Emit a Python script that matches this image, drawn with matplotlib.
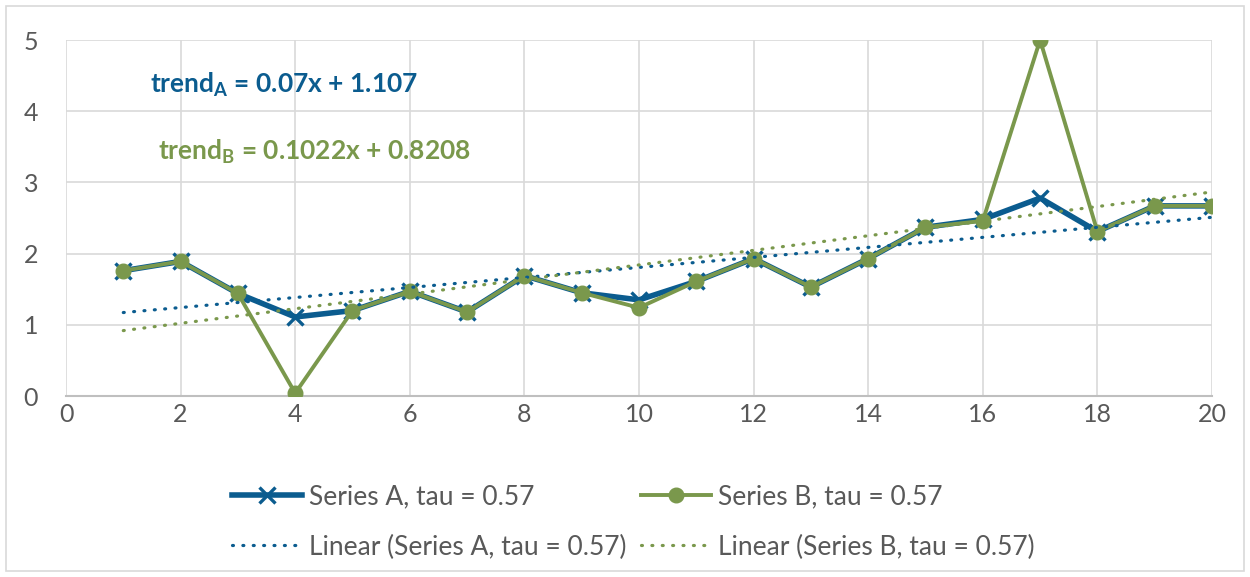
import matplotlib.pyplot as plt
import matplotlib.patches as patches
import numpy as np

# Data
x_vals = list(range(1, 21))
series_a = [1.76, 1.89, 1.44, 1.11, 1.20, 1.47, 1.18, 1.69, 1.45, 1.35,
            1.61, 1.93, 1.53, 1.93, 2.37, 2.48, 2.78, 2.31, 2.67, 2.67]
series_b = [1.76, 1.89, 1.44, 0.04, 1.20, 1.47, 1.18, 1.69, 1.45, 1.24,
            1.61, 1.93, 1.53, 1.93, 2.37, 2.46, 5.00, 2.31, 2.67, 2.67]
label_a = "Series A, tau = 0.57"
label_b = "Series B, tau = 0.57"
trend_text_a = "trend$_\\mathrm{A}$ = 0.07x + 1.107"
trend_text_b = "trend$_\\mathrm{B}$ = 0.1022x + 0.8208"

blue = "#0b5c8f"
green = "#7a984c"
grid_col = "#d9d9d9"
text_col = "#595959"

plt.rcParams['font.family'] = ['Lato', 'DejaVu Sans']
plt.rcParams['mathtext.fontset'] = 'custom'
plt.rcParams['mathtext.rm'] = 'Lato:bold'
plt.rcParams['mathtext.it'] = 'Lato:bold'
plt.rcParams['mathtext.bf'] = 'Lato:bold'

fig = plt.figure(figsize=(12.5, 5.77), dpi=100)
ax = fig.add_axes([66 / 1250, 1 - 396 / 577, (1212 - 66) / 1250, (396 - 40) / 577])

x = np.array(x_vals)
# trend lines fitted from the data
fit_a = np.polyfit(x, series_a, 1)
fit_b = np.polyfit(x, series_b, 1)
dots = (0, (0.3, 2.95))

la, = ax.plot(x, series_a, color=blue, lw=4.0, marker='x', ms=11, mew=2.4,
              label=label_a, zorder=3)
lb, = ax.plot(x, series_b, color=green, lw=2.8, marker='o', ms=10.5,
              label=label_b, zorder=4)
ta, = ax.plot(x, np.polyval(fit_a, x), color=blue, lw=2.3, ls=dots,
              dash_capstyle='round', label="Linear (" + label_a + ")", zorder=5)
tb, = ax.plot(x, np.polyval(fit_b, x), color=green, lw=2.3, ls=dots,
              dash_capstyle='round', label="Linear (" + label_b + ")", zorder=5)

ax.set_xlim(0, 20)
ax.set_ylim(0, 5)
ax.set_xticks(range(0, 21, 2))
ax.set_yticks(range(0, 6))
ax.grid(True, color=grid_col, lw=1.2)
ax.set_axisbelow(True)
for s in ['top', 'right', 'left']:
    ax.spines[s].set_visible(False)
ax.spines['bottom'].set_color('#bfbfbf')
ax.spines['bottom'].set_linewidth(1.5)
ax.tick_params(length=0, labelsize=18, labelcolor=text_col)
ax.tick_params(axis='y', pad=20)
ax.tick_params(axis='x', pad=5)

ax.text(1.47, 4.37, trend_text_a, color=blue, fontsize=19, fontweight='bold',
        ha='left', va='center')
ax.text(1.6, 3.43, trend_text_b, color=green, fontsize=19, fontweight='bold',
        ha='left', va='center')

# column-wise fill: rows become (A, B) and (Linear A, Linear B)
handles = [la, ta, lb, tb]
leg = fig.legend(handles=handles, labels=[h.get_label() for h in handles],
                 loc='center', bbox_to_anchor=(633 / 1250, 1 - 522 / 577),
                 ncol=2, frameon=False, fontsize=19, handlelength=2.65,
                 handletextpad=0.27, columnspacing=0.55, labelspacing=0.95,
                 numpoints=1)
for t in leg.get_texts():
    t.set_color(text_col)

fig.patches.append(patches.Rectangle((6 / 1250, 6 / 577), 1238 / 1250, 565 / 577,
                                     transform=fig.transFigure, fill=False,
                                     edgecolor=grid_col, lw=1.2))

fig.savefig("out.png", dpi=100)
